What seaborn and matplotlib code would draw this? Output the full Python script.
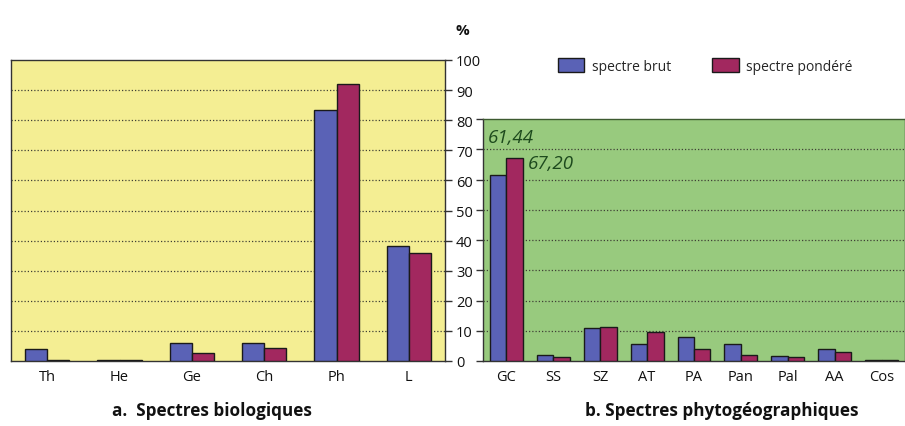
import numpy as np
import pandas as pd
import matplotlib
matplotlib.use("Agg")
import matplotlib.pyplot as plt
import seaborn as sns
from matplotlib.patches import Patch

sns.set_theme(style="white")
plt.rcParams["font.family"] = ["Open Sans", "DejaVu Sans"]

series = ["spectre brut", "spectre pondéré"]

bio_cats = ["Th", "He", "Ge", "Ch", "Ph", "L"]
bio_brut = [3.9, 0.3, 6.1, 6.1, 83.4, 38.2]
bio_pond = [0.4, 0.3, 2.7, 4.4, 92.0, 35.9]

geo_cats = ["GC", "SS", "SZ", "AT", "PA", "Pan", "Pal", "AA", "Cos"]
geo_brut = [61.44, 2.0, 10.9, 5.7, 8.0, 5.7, 1.5, 3.9, 0.2]
geo_pond = [67.20, 1.2, 11.3, 9.6, 4.1, 2.1, 1.2, 3.0, 0.2]

y_ticks = list(range(0, 101, 10))

blue = "#5A62B6"
red = "#A2285F"
yellow_bg = "#F4EE93"
green_bg = "#98CA7E"


def long_frame(cats, brut, pond):
    return pd.DataFrame({
        "cat": cats * 2,
        "serie": [series[0]] * len(cats) + [series[1]] * len(cats),
        "val": list(brut) + list(pond),
    })


W, H = 905, 427
fig = plt.figure(figsize=(W / 100, H / 100), dpi=100)
fig.patch.set_facecolor("white")

ax1 = fig.add_axes([11 / W, (H - 362) / H, (445 - 11) / W, (362 - 61) / H])
ax2 = fig.add_axes([483 / W, (H - 362) / H, (905 - 483) / W, (362 - 120) / H])


def draw(ax, df, cats, top, bg, grid_max, width):
    sns.barplot(data=df, x="cat", y="val", hue="serie", order=cats,
                hue_order=series, palette=[blue, red], width=width,
                edgecolor="#1a1a1a", linewidth=1.0, ax=ax, legend=False,
                saturation=1, zorder=3)
    ax.set_facecolor(bg)
    ax.set_ylim(0, top)
    ax.set_xlim(-0.5, len(cats) - 0.5)
    ax.set_xlabel("")
    ax.set_ylabel("")
    for v in range(10, grid_max + 1, 10):
        ax.axhline(v, color="#404036", lw=0.9, ls=(0, (1.0, 1.6)), zorder=1)
    for s in ax.spines.values():
        s.set_color("#333333")
        s.set_linewidth(1.0)
    ax.set_xticks(range(len(cats)))
    ax.set_xticklabels(cats, fontsize=10.5, color="#111111")
    ax.tick_params(axis="x", which="major", length=0, pad=6)
    ax.set_xticks(np.arange(-0.5, len(cats), 1.0), minor=True)
    ax.tick_params(axis="x", which="minor", length=5, width=1.0,
                   color="#333333", direction="out")


draw(ax1, long_frame(bio_cats, bio_brut, bio_pond), bio_cats, 100, yellow_bg, 90, 0.61)
draw(ax2, long_frame(geo_cats, geo_brut, geo_pond), geo_cats, 80, green_bg, 70, 0.70)
ax2.spines["top"].set_color("#3d5a30")

# shared percentage scale between the two panels
ax1.yaxis.tick_right()
ax1.set_yticks(y_ticks)
ax1.set_yticklabels([str(v) for v in y_ticks], fontsize=10.5, color="#111111")
ax1.tick_params(axis="y", length=5, width=1.0, color="#333333",
                direction="out", pad=3, right=True, left=False)
ax2.set_yticks(y_ticks[:9])
ax2.set_yticklabels([])
ax2.tick_params(axis="y", length=5, width=1.0, color="#333333",
                direction="out", left=True)

fig.text(462 / W, 1 - 31 / H, "%", fontsize=11, fontweight="bold",
         ha="center", va="center", color="#111111")

# values written over the GC group
ax2.text(-0.39, 74.2, "61,44", fontsize=13.5, style="italic", color="#1d4a1d",
         ha="left", va="center")
ax2.text(0.46, 65.6, "67,20", fontsize=13.5, style="italic", color="#1d4a1d",
         ha="left", va="center")

handles = [Patch(facecolor=blue, edgecolor="#1a1a1a", label=series[0]),
           Patch(facecolor=red, edgecolor="#1a1a1a", label=series[1])]
fig.legend(handles=handles, loc="center left", bbox_to_anchor=(545 / W, 1 - 67 / H),
           ncol=2, frameon=False, fontsize=10, handlelength=1.9,
           handleheight=1.1, columnspacing=3.0, handletextpad=0.55)

fig.text(212 / W, 1 - 411 / H, "a.  Spectres biologiques", fontsize=12.3,
         fontweight="bold", ha="center", va="center", color="#111111")
fig.text(722 / W, 1 - 411 / H, "b. Spectres phytogéographiques", fontsize=12.3,
         fontweight="bold", ha="center", va="center", color="#111111")

fig.savefig("out.png", dpi=100, facecolor="white")
